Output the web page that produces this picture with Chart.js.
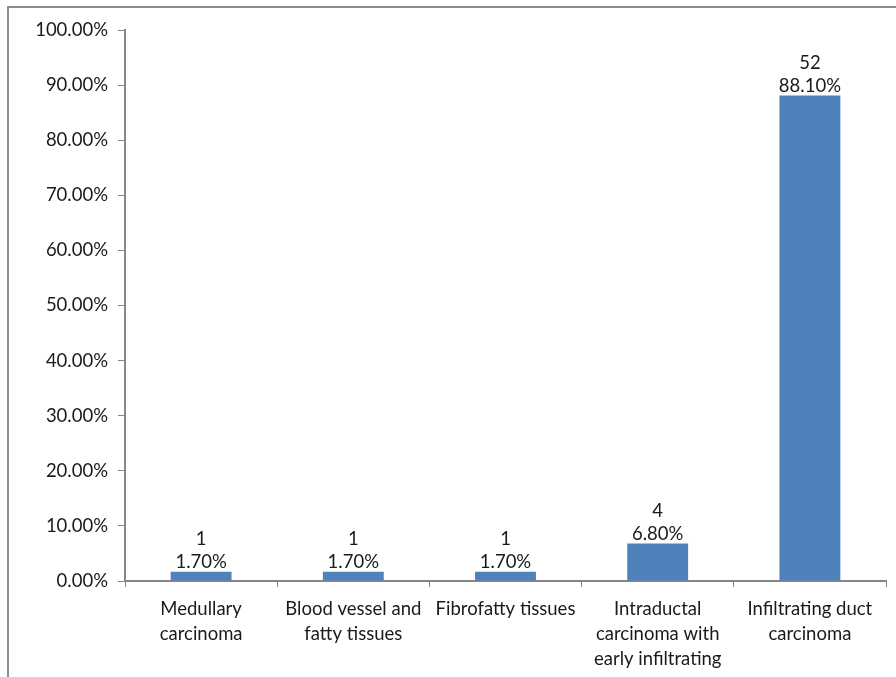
<!DOCTYPE html>
<html><head><meta charset="utf-8">
<script src="https://cdn.jsdelivr.net/npm/chart.js@4/dist/chart.umd.min.js"></script>
<style>html,body{margin:0;padding:0;background:#fff;}#wrap{position:absolute;left:0;top:0;width:896px;height:677px;}</style>
</head><body><div id="wrap"><canvas id="c" width="896" height="677"></canvas></div>
<script>
const categories = [["Medullary","carcinoma"],["Blood vessel and","fatty tissues"],["Fibrofatty tissues"],["Intraductal","carcinoma with","early infiltrating"],["Infiltrating duct","carcinoma"]];
const percentValues = [1.7, 1.7, 1.7, 6.8, 88.1];
const counts = [1, 1, 1, 4, 52];
const yTicks = [0,10,20,30,40,50,60,70,80,90,100];

const FONT = "Lato, 'Liberation Sans', sans-serif";
const FS = 18.5;
const TXT = '#1a1a1a';
const AX = '#868686';

const frame = {
  id:'frame',
  beforeDraw(chart){
    const ctx = chart.ctx;
    ctx.save();
    ctx.strokeStyle = '#8c8c8c'; ctx.lineWidth = 2;
    ctx.beginPath(); ctx.moveTo(8, 700); ctx.lineTo(8, 7); ctx.lineTo(900, 7); ctx.stroke();
    ctx.restore();
  }
};
const labels = {
  id:'labels',
  afterDatasetsDraw(chart){
    const ctx = chart.ctx;
    const meta = chart.getDatasetMeta(0);
    ctx.save();
    ctx.fillStyle = TXT; ctx.font = FS + 'px ' + FONT;
    ctx.textAlign = 'center'; ctx.textBaseline = 'middle';
    meta.data.forEach((bar,i)=>{
      ctx.fillText(percentValues[i].toFixed(2)+'%', bar.x, bar.y - 10);
      ctx.fillText(String(counts[i]), bar.x, bar.y - 33);
    });
    ctx.restore();
  }
};

new Chart(document.getElementById('c'), {
  type:'bar',
  data:{ labels: categories, datasets:[{ data: percentValues, backgroundColor:'#4f81bd', borderWidth:0, barPercentage:0.4, categoryPercentage:1.0 }]},
  options:{
    responsive:false, animation:false,
    layout:{ padding:{ left:0, top:30, right:10, bottom:0 } },
    plugins:{ legend:{display:false}, tooltip:{enabled:false} },
    scales:{
      x:{
        grid:{ display:true, drawOnChartArea:false, drawTicks:true, tickLength:6, color:AX, offset:true, lineWidth:1 },
        border:{ display:true, color:AX, width:2 },
        ticks:{ color:TXT, font:{ family:FONT, size:FS, lineHeight:1.35 }, padding:10, maxRotation:0, autoSkip:false },
        afterFit(s){ s.height = 96; }
      },
      y:{
        min:0, max:100,
        afterBuildTicks(s){ s.ticks = yTicks.map(v=>({value:v})); },
        grid:{ display:true, drawOnChartArea:false, drawTicks:true, tickLength:7, color:AX, lineWidth:1 },
        border:{ display:true, color:AX, width:2 },
        ticks:{ color:TXT, font:{ family:FONT, size:FS }, padding:10, callback:v=>v.toFixed(2)+'%' },
        afterFit(s){ s.width = 125; }
      }
    }
  },
  plugins:[frame, labels]
});
</script></body></html>
